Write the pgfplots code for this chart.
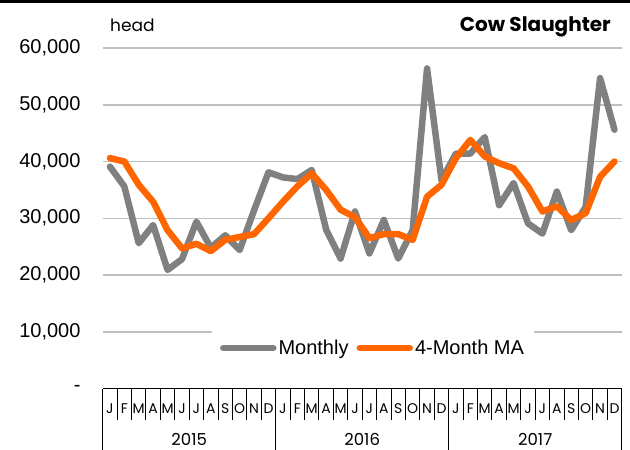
\documentclass[border=0pt]{standalone}
\usepackage{fontspec}
\setmainfont{Liberation Sans}
\newfontfamily\gothic{Poppins}
\usepackage{pgfplots}
\usepackage{pgfplotstable}
\pgfplotsset{compat=1.18}
\definecolor{mgrey}{HTML}{808080}
\definecolor{morange}{HTML}{FF6600}
\definecolor{gridc}{HTML}{C0C0C0}
\pgfplotstableread{
i m ma
0 39100 40600
1 35600 40000
2 25600 35900
3 28800 32900
4 20900 27900
5 22800 24700
6 29400 25500
7 24800 24200
8 27000 26200
9 24400 26700
10 31400 27200
11 38100 30000
12 37200 32900
13 36900 35600
14 38500 37900
15 28000 35000
16 22900 31500
17 31200 30200
18 23800 26500
19 29700 27200
20 22900 27200
21 27900 26200
22 56400 33800
23 36700 35900
24 41400 40600
25 41400 43800
26 44300 40900
27 32300 39700
28 36200 38800
29 29100 35600
30 27300 31200
31 34700 32100
32 27900 29700
33 32000 30900
34 54700 37300
35 45600 40000
}\data
\begin{document}
\begin{tikzpicture}
\path[use as bounding box] (-102.7pt,-61.5pt) rectangle (527.3pt,388.5pt);
\begin{axis}[
  scale only axis, width=519pt, height=340.5pt,
  xmin=-0.5, xmax=35.5, ymin=0, ymax=60000,
  clip=false,
  scaled y ticks=false,
  axis x line*=bottom, axis y line*=left,
  x axis line style={black, line width=1.5pt, -},
  y axis line style={draw=none},
  ymajorgrids, grid style={gridc, line width=1.5pt},
  ytick={0,10000,20000,30000,40000,50000,60000},
  yticklabels={{-\hspace{13pt}},{10,000},{20,000},{30,000},{40,000},{50,000},{60,000}},
  yticklabel style={font=\fontsize{20}{24}\selectfont, anchor=east, inner sep=0pt, xshift=-22pt},
  ytick style={draw=none},
  tick align=outside,
  xtick={0,...,35},
  xticklabels={J,F,M,A,M,J,J,A,S,O,N,D,J,F,M,A,M,J,J,A,S,O,N,D,J,F,M,A,M,J,J,A,S,O,N,D},
  xticklabel style={font=\gothic\fontsize{14}{16}\selectfont, anchor=base, inner sep=0pt, yshift=-24.8pt},
  major tick length=0pt,
  minor tick length=31pt,
  minor xtick={-0.5,0.5,1.5,2.5,3.5,4.5,5.5,6.5,7.5,8.5,9.5,10.5,11.5,12.5,13.5,14.5,15.5,16.5,17.5,18.5,19.5,20.5,21.5,22.5,23.5,24.5,25.5,26.5,27.5,28.5,29.5,30.5,31.5,32.5,33.5,34.5,35.5},
  minor tick style={black, line width=1pt},
  extra x ticks={-0.5,11.5,23.5,35.5},
  extra x tick labels={},
  extra x tick style={major tick length=62pt, tick style={black, line width=1.5pt}},
  legend columns=2,
  legend style={at={(0.5208,0.119)}, anchor=center, draw=none, fill=white,
    inner xsep=8pt, inner ysep=12pt,
    font=\fontsize{20}{22}\selectfont,
    /tikz/every even column/.append style={column sep=6pt}},
  legend image code/.code={\draw[#1, line width=6.5pt, line cap=round] (0pt,0pt) -- (50pt,0pt);},
]
\addplot[mgrey, line width=6.5pt, line join=round, line cap=round] table[x=i,y=m]{\data};
\addlegendentry{Monthly}
\addplot[morange, line width=6.5pt, line join=round, line cap=round] table[x=i,y=ma]{\data};
\addlegendentry{4-Month MA}
\node[anchor=base, inner sep=0pt, font=\gothic\fontsize{16.5}{18}\selectfont] at (axis cs:5.5,0) [yshift=-57pt] {2015};
\node[anchor=base, inner sep=0pt, font=\gothic\fontsize{16.5}{18}\selectfont] at (axis cs:17.5,0) [yshift=-57pt] {2016};
\node[anchor=base, inner sep=0pt, font=\gothic\fontsize{16.5}{18}\selectfont] at (axis cs:29.5,0) [yshift=-57pt] {2017};
\end{axis}
\fill[black] (-102.7pt,385pt) rectangle (527.3pt,388.5pt);
\node[anchor=base west, inner sep=0pt, font=\gothic\fontsize{17}{20}\selectfont] at (7.3pt,356.8pt) {head};
\node[anchor=base east, inner sep=0pt, font=\gothic\bfseries\fontsize{20}{24}\selectfont] at (508.3pt,356.8pt) {Cow Slaughter};
\end{tikzpicture}
\end{document}
